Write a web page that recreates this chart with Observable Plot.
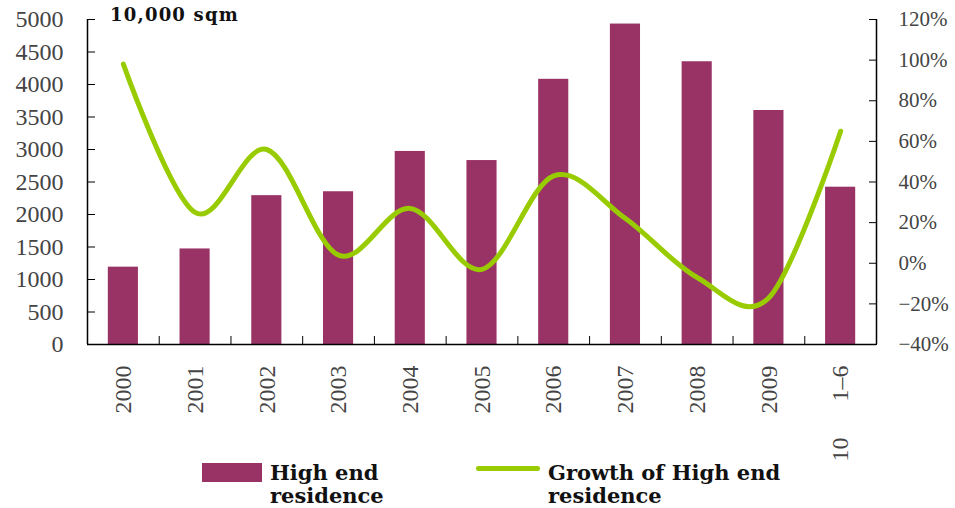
<!DOCTYPE html>
<html>
<head>
<meta charset="utf-8">
<script src="https://cdn.jsdelivr.net/npm/d3@7"></script>
<script src="https://cdn.jsdelivr.net/npm/@observablehq/plot@0.6"></script>
<style>
  html, body { margin: 0; padding: 0; background: #fff; }
  #wrap { position: relative; width: 955px; height: 508px; overflow: hidden; }
  #title { position: absolute; left: 110px; top: 4px; font-family: "DejaVu Serif", serif; font-weight: bold; font-size: 18px; letter-spacing: 1.2px; color: #111; }
  .leg { position: absolute; font-family: "DejaVu Serif", serif; font-weight: bold; font-size: 21px; line-height: 23px; color: #111; }
  .sw { position: absolute; }
</style>
</head>
<body>
<div id="wrap">
  <div id="chart"></div>
  <div id="title">10,000 sqm</div>
  <div class="sw" style="left:202px;top:463px;width:60px;height:19px;background:#993366"></div>
  <div class="leg" style="left:270px;top:461px">High end<br>residence</div>
  <div class="sw" style="left:476px;top:466px;width:64px;height:5px;border-radius:3px;background:#99cc00"></div>
  <div class="leg" style="left:548px;top:461px">Growth of High end<br>residence</div>
</div>
<script>
const categories = ["2000","2001","2002","2003","2004","2005","2006","2007","2008","2009","10\u2003\u20021\u20136"];
const area = [1190, 1470, 2290, 2350, 2970, 2830, 4080, 4930, 4350, 3600, 2420];
const growth = [98, 25, 56, 4, 27, -3, 43, 22, -7, -17, 65];
const leftTicks = [0,500,1000,1500,2000,2500,3000,3500,4000,4500,5000];
const rightTicks = [-40,-20,0,20,40,60,80,100,120];

const yMax = 5000, pMin = -40, pMax = 120;
const toY = p => (p - pMin) / (pMax - pMin) * yMax;
const fromY = v => Math.round(v / yMax * (pMax - pMin) + pMin);
const pctLabel = p => (p < 0 ? "\u2212" + Math.abs(p) : String(p)) + "%";

const data = categories.map((c, i) => ({i, c, v: area[i], g: growth[i]}));
const bounds = d3.range(-0.5, categories.length, 1);

const plot = Plot.plot({
  width: 955,
  height: 508,
  marginLeft: 87,
  marginRight: 79,
  marginTop: 19,
  marginBottom: 164,
  style: {fontFamily: "'Liberation Serif', serif", fontSize: "24px", color: "#444", background: "transparent"},
  x: {type: "linear", domain: [-0.5, categories.length - 0.5], axis: null},
  y: {domain: [0, yMax], axis: null},
  marks: [
    Plot.rectY(data, {x1: d => d.i - 0.21, x2: d => d.i + 0.21, y: "v", fill: "#993366"}),
    Plot.line(data, {x: "i", y: d => toY(d.g), curve: "cardinal", tension: 0, stroke: "#99cc00", strokeWidth: 5, strokeLinecap: "round", strokeLinejoin: "round"}),
    // axis lines
    Plot.ruleX([-0.5], {stroke: "#000", strokeWidth: 1.5}),
    Plot.ruleX([categories.length - 0.5], {stroke: "#000", strokeWidth: 1.5}),
    Plot.ruleY([0], {stroke: "#000", strokeWidth: 1.5}),
    // left axis
    Plot.axisY(leftTicks, {anchor: "left", label: null, tickSize: 8, dx: 8, tickFormat: () => "", stroke: "#000"}),
    Plot.axisY(leftTicks, {anchor: "left", label: null, tickSize: 0, tickPadding: 24, tickFormat: d => String(d), fill: "#444"}),
    // right axis
    Plot.axisY(rightTicks.map(toY), {anchor: "right", label: null, tickSize: 8, dx: -8, tickFormat: () => "", stroke: "#000"}),
    Plot.axisY(rightTicks.map(toY), {anchor: "right", label: null, tickSize: 0, tickPadding: 22, fontSize: 21, tickFormat: d => pctLabel(fromY(d)), fill: "#444"}),
    // bottom axis
    Plot.axisX(bounds, {anchor: "bottom", label: null, tickSize: 8, dy: -8, tickFormat: () => "", stroke: "#000"}),
    Plot.axisX(d3.range(categories.length), {anchor: "bottom", label: null, tickSize: 0, tickPadding: 21, tickRotate: -90, tickFormat: i => categories[i], fill: "#444"})
  ]
});
document.getElementById("chart").appendChild(plot);
</script>
</body>
</html>
